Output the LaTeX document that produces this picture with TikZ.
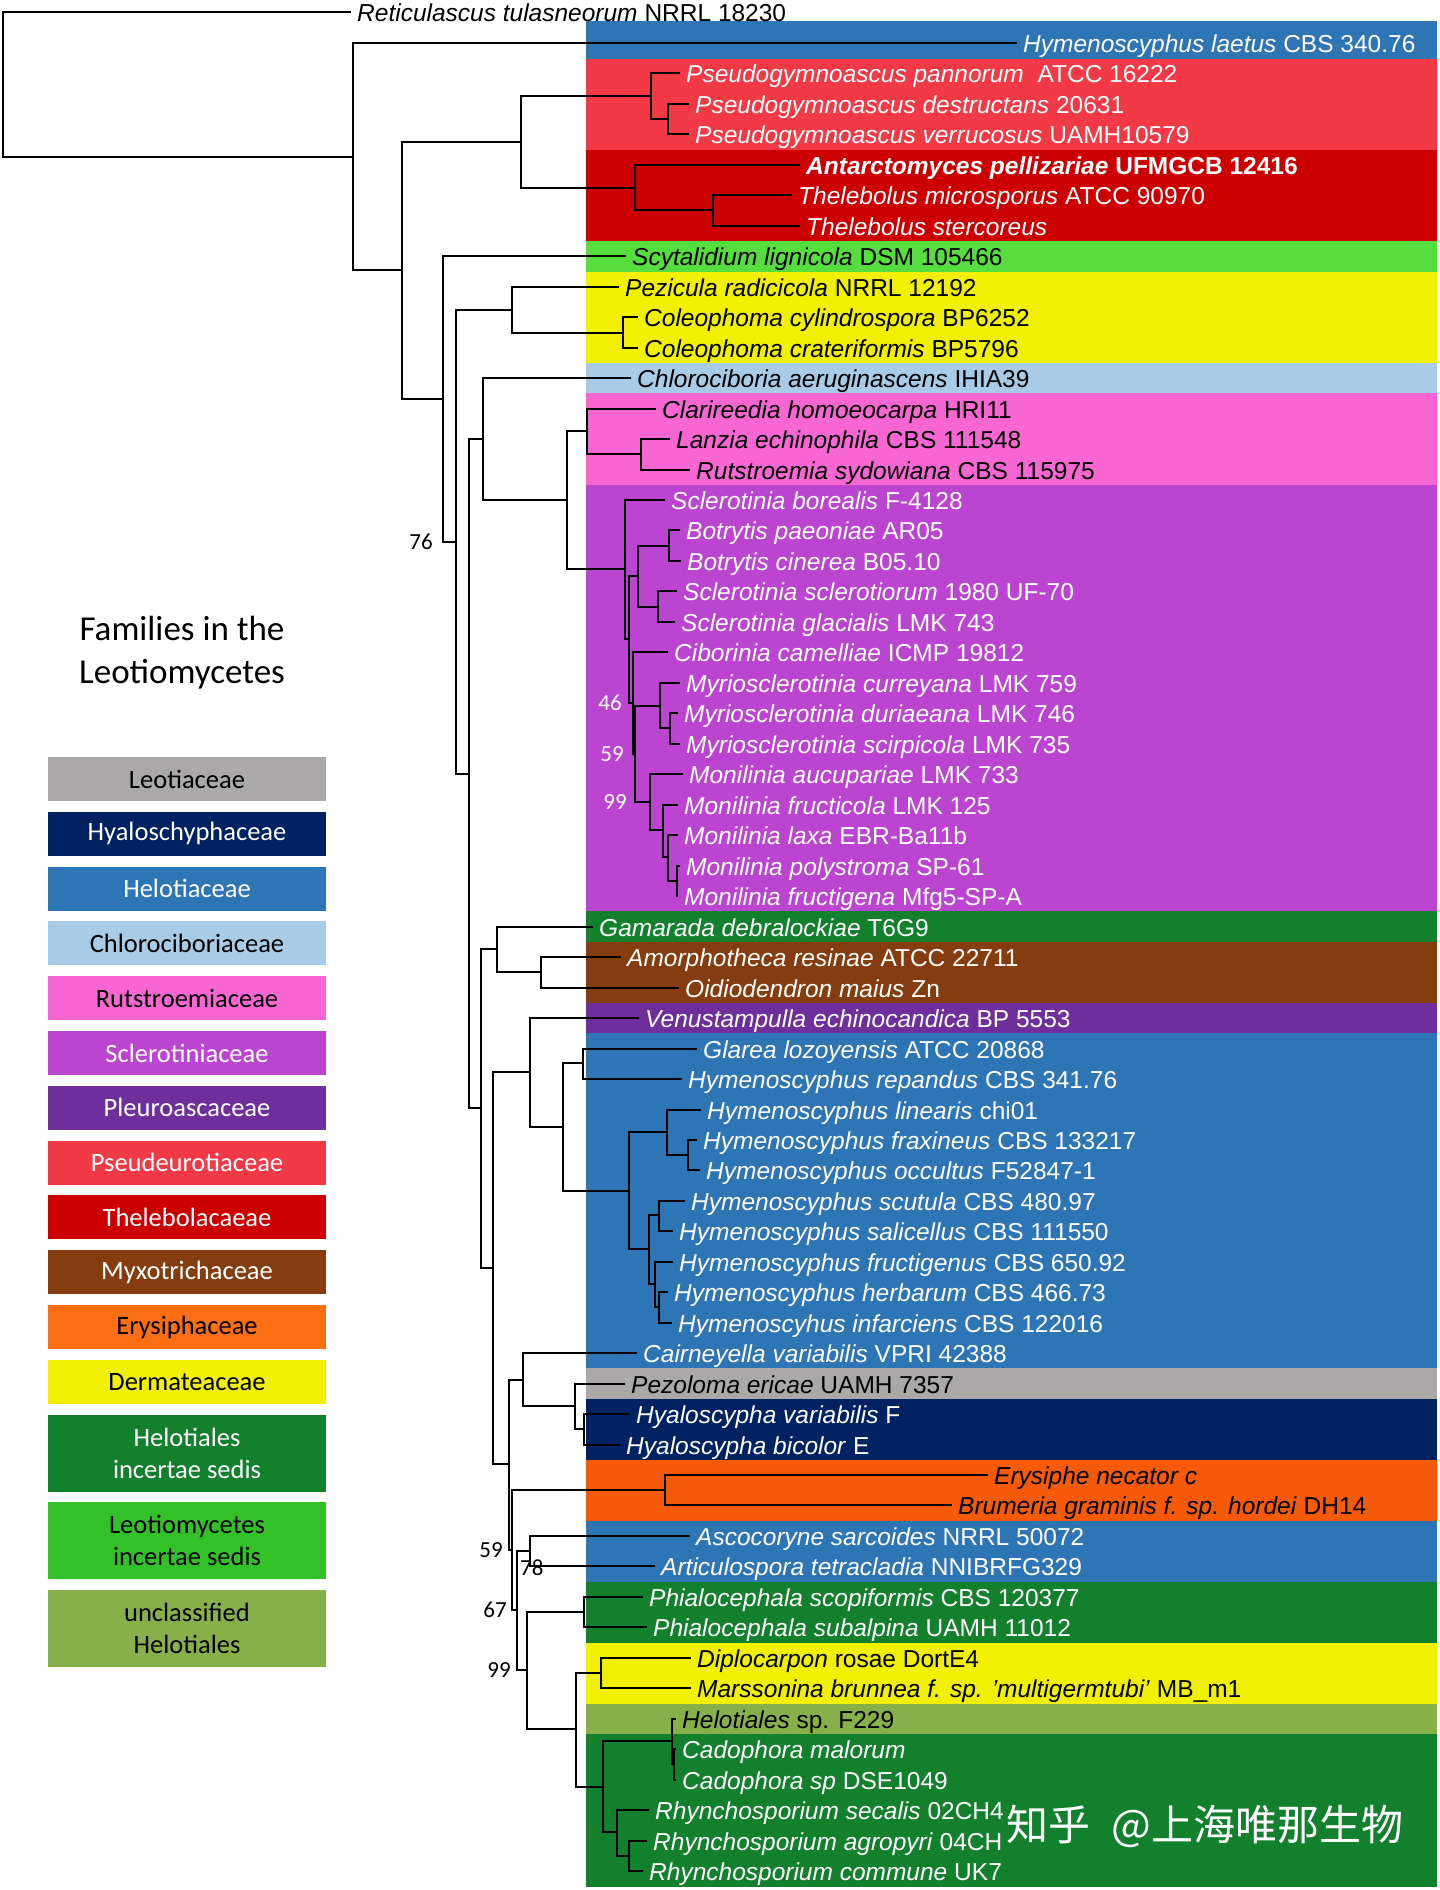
\documentclass[tikz,border=0pt]{standalone}
\usepackage{fontspec}
\setmainfont{Liberation Sans}
\newfontfamily\keyfont{Carlito}
\newfontfamily\markfont{Noto Sans CJK SC}
\usepackage{tikz}
\usetikzlibrary{positioning}
\usepackage{xcolor}

\definecolor{helo}{RGB}{46,117,182}
\definecolor{pseudeuro}{RGB}{242,58,70}
\definecolor{thelebol}{RGB}{204,0,0}
\definecolor{leotio}{RGB}{86,222,62}
\definecolor{leotiokey}{RGB}{51,193,42}
\definecolor{dermat}{RGB}{240,240,0}
\definecolor{chloroci}{RGB}{168,204,232}
\definecolor{rutstro}{RGB}{248,102,212}
\definecolor{sclero}{RGB}{187,69,208}
\definecolor{helotis}{RGB}{18,128,44}
\definecolor{myxo}{RGB}{133,60,14}
\definecolor{pleuro}{RGB}{110,46,156}
\definecolor{leotia}{RGB}{170,168,168}
\definecolor{hyalo}{RGB}{0,34,98}
\definecolor{erysi}{RGB}{245,90,8}
\definecolor{erysikey}{RGB}{252,110,20}
\definecolor{unclass}{RGB}{136,176,74}

\newcommand{\leaffont}{\fontsize{24.5}{29}\selectfont}

\begin{document}
\begin{tikzpicture}[x=1pt,y=-1pt,
	  every node/.style={inner sep=0pt},
	  leaf/.style={anchor=west,inner xsep=6pt,text height=18pt,text depth=0pt,font=\leaffont},
	  wleaf/.style={leaf,text=white},
	  branch/.style={line width=2.1pt},
	  boot/.style={anchor=east,text depth=0pt,font=\keyfont\fontsize{23}{26}\selectfont},
	  famkey/.style={minimum width=278pt,minimum height=44pt,align=center,font=\keyfont\fontsize{26.5}{32}\selectfont},
	  famkey2/.style={famkey,minimum height=77pt}]

	  \useasboundingbox (0,0) rectangle (1440,1890);

	  % Family bands behind the tips
	  \fill[helo] (586,21) rectangle (1437,59);
	  \fill[pseudeuro] (586,59) rectangle (1437,150);
	  \fill[thelebol] (586,150) rectangle (1437,241);
	  \fill[leotio] (586,241) rectangle (1437,272);
	  \fill[dermat] (586,272) rectangle (1437,363);
	  \fill[chloroci] (586,363) rectangle (1437,393);
	  \fill[rutstro] (586,393) rectangle (1437,485);
	  \fill[sclero] (586,485) rectangle (1437,911);
	  \fill[helotis] (586,911) rectangle (1437,942);
	  \fill[myxo] (586,942) rectangle (1437,1003);
	  \fill[pleuro] (586,1003) rectangle (1437,1033);
	  \fill[helo] (586,1033) rectangle (1437,1368);
	  \fill[leotia] (586,1368) rectangle (1437,1399);
	  \fill[hyalo] (586,1399) rectangle (1437,1460);
	  \fill[erysi] (586,1460) rectangle (1437,1521);
	  \fill[helo] (586,1521) rectangle (1437,1582);
	  \fill[helotis] (586,1582) rectangle (1437,1643);
	  \fill[dermat] (586,1643) rectangle (1437,1704);
	  \fill[unclass] (586,1704) rectangle (1437,1734);
	  \fill[helotis] (586,1734) rectangle (1437,1887);

	  % Tips
	  \node[leaf] (retic) at (351,12) {\textit{Reticulascus tulasneorum} NRRL 18230};
	  \node[wleaf] (laetus) at (1017,43) {\textit{Hymenoscyphus laetus} CBS 340.76};
	  \node[wleaf] (pann) at (680,73) {\textit{Pseudogymnoascus pannorum}\ \ ATCC 16222};
	  \node[wleaf] (destr) at (689,104) {\textit{Pseudogymnoascus destructans} 20631};
	  \node[wleaf] (verru) at (689,134) {\textit{Pseudogymnoascus verrucosus} UAMH10579};
	  \node[wleaf,font=\leaffont\bfseries] (antarc) at (800,165) {\textit{Antarctomyces pellizariae} UFMGCB 12416};
	  \node[wleaf] (micro) at (792,195) {\textit{Thelebolus microsporus} ATCC 90970};
	  \node[wleaf] (sterc) at (800,226) {\textit{Thelebolus stercoreus}};
	  \node[leaf] (scyt) at (626,256) {\textit{Scytalidium lignicola} DSM 105466};
	  \node[leaf] (pezic) at (619,287) {\textit{Pezicula radicicola} NRRL 12192};
	  \node[leaf] (colcyl) at (638,317) {\textit{Coleophoma cylindrospora} BP6252};
	  \node[leaf] (colcra) at (638,348) {\textit{Coleophoma crateriformis} BP5796};
	  \node[leaf] (chloro) at (631,378) {\textit{Chlorociboria aeruginascens} IHIA39};
	  \node[leaf] (clari) at (656,409) {\textit{Clarireedia homoeocarpa} HRI11};
	  \node[leaf] (lanzia) at (670,439) {\textit{Lanzia echinophila} CBS 111548};
	  \node[leaf] (rutstr) at (690,470) {\textit{Rutstroemia sydowiana} CBS 115975};
	  \node[wleaf] (sbor) at (665,500) {\textit{Sclerotinia borealis} F-4128};
	  \node[wleaf] (bpae) at (680,530) {\textit{Botrytis paeoniae} AR05};
	  \node[wleaf] (bcin) at (681,561) {\textit{Botrytis cinerea} B05.10};
	  \node[wleaf] (sscl) at (677,591) {\textit{Sclerotinia sclerotiorum} 1980 UF-70};
	  \node[wleaf] (sgla) at (675,622) {\textit{Sclerotinia glacialis} LMK 743};
	  \node[wleaf] (cib) at (668,652) {\textit{Ciborinia camelliae} ICMP 19812};
	  \node[wleaf] (mcur) at (680,683) {\textit{Myriosclerotinia curreyana} LMK 759};
	  \node[wleaf] (mdur) at (678,713) {\textit{Myriosclerotinia duriaeana} LMK 746};
	  \node[wleaf] (mscir) at (680,744) {\textit{Myriosclerotinia scirpicola} LMK 735};
	  \node[wleaf] (mauc) at (683,774) {\textit{Monilinia aucupariae} LMK 733};
	  \node[wleaf] (mfcol) at (678,805) {\textit{Monilinia fructicola} LMK 125};
	  \node[wleaf] (mlaxa) at (678,835) {\textit{Monilinia laxa} EBR-Ba11b};
	  \node[wleaf] (mpoly) at (680,866) {\textit{Monilinia polystroma} SP-61};
	  \node[wleaf] (mfgen) at (678,896) {\textit{Monilinia fructigena} Mfg5-SP-A};
	  \node[wleaf] (gam) at (593,927) {\textit{Gamarada debralockiae} T6G9};
	  \node[wleaf] (amor) at (621,957) {\textit{Amorphotheca resinae} ATCC 22711};
	  \node[wleaf] (oid) at (679,988) {\textit{Oidiodendron maius} Zn};
	  \node[wleaf] (ven) at (639,1018) {\textit{Venustampulla echinocandica} BP 5553};
	  \node[wleaf] (glar) at (697,1049) {\textit{Glarea lozoyensis} ATCC 20868};
	  \node[wleaf] (hrep) at (682,1079) {\textit{Hymenoscyphus repandus} CBS 341.76};
	  \node[wleaf] (hlin) at (701,1110) {\textit{Hymenoscyphus linearis} chi01};
	  \node[wleaf] (hfrax) at (697,1140) {\textit{Hymenoscyphus fraxineus} CBS 133217};
	  \node[wleaf] (hocc) at (700,1170) {\textit{Hymenoscyphus occultus} F52847-1};
	  \node[wleaf] (hscu) at (685,1201) {\textit{Hymenoscyphus scutula} CBS 480.97};
	  \node[wleaf] (hsal) at (673,1231) {\textit{Hymenoscyphus salicellus} CBS 111550};
	  \node[wleaf] (hfgen) at (673,1262) {\textit{Hymenoscyphus fructigenus} CBS 650.92};
	  \node[wleaf] (hherb) at (668,1292) {\textit{Hymenoscyphus herbarum} CBS 466.73};
	  \node[wleaf] (hinf) at (672,1323) {\textit{Hymenoscyhus infarciens} CBS 122016};
	  \node[wleaf] (cair) at (637,1353) {\textit{Cairneyella variabilis} VPRI 42388};
	  \node[leaf] (pezol) at (625,1384) {\textit{Pezoloma ericae} UAMH 7357};
	  \node[wleaf] (hyav) at (630,1414) {\textit{Hyaloscypha variabilis} F};
	  \node[wleaf] (hyab) at (620,1445) {\textit{Hyaloscypha bicolor} E};
	  \node[leaf] (ery) at (988,1475) {\textit{Erysiphe necator c}};
	  \node[leaf] (brum) at (952,1505) {\textit{Brumeria graminis f. sp. hordei} DH14};
	  \node[wleaf] (asco) at (690,1536) {\textit{Ascocoryne sarcoides} NRRL 50072};
	  \node[wleaf] (artic) at (655,1566) {\textit{Articulospora tetracladia} NNIBRFG329};
	  \node[wleaf] (phs) at (643,1597) {\textit{Phialocephala scopiformis} CBS 120377};
	  \node[wleaf] (phsub) at (647,1627) {\textit{Phialocephala subalpina} UAMH 11012};
	  \node[leaf] (dipl) at (691,1658) {\textit{Diplocarpon} rosae DortE4};
	  \node[leaf] (mars) at (691,1688) {\textit{Marssonina brunnea f. sp. 'multigermtubi'} MB\_m1};
	  \node[leaf] (helsp) at (676,1719) {\textit{Helotiales} sp. F229};
	  \node[wleaf] (cadm) at (676,1749) {\textit{Cadophora malorum}};
	  \node[wleaf] (cads) at (676,1780) {\textit{Cadophora sp} DSE1049};
	  \node[wleaf] (rsec) at (649,1810) {\textit{Rhynchosporium secalis} 02CH4};
	  \node[wleaf] (ragr) at (647,1841) {\textit{Rhynchosporium agropyri} 04CH};
	  \node[wleaf] (rcom) at (643,1871) {\textit{Rhynchosporium commune} UK7};

	  % Inner nodes of the tree
	  \coordinate (root) at (3,84);
	  \coordinate (outA) at (353,157);
	  \coordinate (outB) at (402,270);
	  \coordinate (pseuthel) at (521,142);
	  \coordinate (pseudo) at (651,96);
	  \coordinate (pseudo2) at (668,119);
	  \coordinate (thel) at (635,188);
	  \coordinate (thel2) at (713,210);
	  \coordinate (core) at (443,399);
	  \coordinate (core2) at (456,542);
	  \coordinate (dermat) at (512,310);
	  \coordinate (coleo) at (623,333);
	  \coordinate (helot) at (469,774);
	  \coordinate (chlorut) at (483,439);
	  \coordinate (rutscl) at (567,500);
	  \coordinate (rutstro) at (587,431);
	  \coordinate (rutstro2) at (641,454);
	  \coordinate (sclero) at (625,569);
	  \coordinate (sclero2) at (629,639);
	  \coordinate (botscl) at (638,576);
	  \coordinate (botry) at (669,546);
	  \coordinate (sclerot) at (658,607);
	  \coordinate (sclero3) at (633,703);
	  \coordinate (sclero4) at (635,754);
	  \coordinate (myrio) at (660,706);
	  \coordinate (myrio2) at (670,728);
	  \coordinate (monil) at (650,802);
	  \coordinate (monil2) at (663,830);
	  \coordinate (monil3) at (668,857);
	  \coordinate (monil4) at (677,881);
	  \coordinate (lower) at (481,1108);
	  \coordinate (gammyx) at (497,949);
	  \coordinate (myxo) at (541,972);
	  \coordinate (lower2) at (493,1268);
	  \coordinate (venhel) at (530,1072);
	  \coordinate (hymclade) at (563,1127);
	  \coordinate (glarea) at (583,1063);
	  \coordinate (hymeno) at (629,1191);
	  \coordinate (hymlin) at (667,1132);
	  \coordinate (hymfrax) at (688,1155);
	  \coordinate (hymscu) at (649,1249);
	  \coordinate (hymscu2) at (659,1215);
	  \coordinate (hymfru) at (655,1284);
	  \coordinate (hymherb) at (659,1307);
	  \coordinate (lower3) at (509,1464);
	  \coordinate (cairhya) at (523,1380);
	  \coordinate (pezhya) at (575,1406);
	  \coordinate (hyalo) at (584,1429);
	  \coordinate (lower4) at (512,1550);
	  \coordinate (erysi) at (665,1490);
	  \coordinate (lower5) at (517,1610);
	  \coordinate (ascart) at (530,1551);
	  \coordinate (lower6) at (527,1670);
	  \coordinate (phialo) at (584,1612);
	  \coordinate (lower7) at (576,1729);
	  \coordinate (diplo) at (601,1673);
	  \coordinate (cadrhy) at (603,1787);
	  \coordinate (cado) at (672,1741);
	  \coordinate (cado2) at (674,1764);
	  \coordinate (rhyn) at (617,1832);
	  \coordinate (rhyn2) at (629,1856);

	  % Branches
	  \draw[branch] (retic.west) -| (root) |- (outA);
	  \draw[branch] (laetus.west) -| (outA) |- (outB);
	  \draw[branch] (pseuthel) -| (outB) |- (core);
	  \draw[branch] (pseudo) -| (pseuthel) |- (thel);
	  \draw[branch] (pann.west) -| (pseudo) |- (pseudo2);
	  \draw[branch] (destr.west) -| (pseudo2) |- (verru.west);
	  \draw[branch] (antarc.west) -| (thel) |- (thel2);
	  \draw[branch] (micro.west) -| (thel2) |- (sterc.west);
	  \draw[branch] (scyt.west) -| (core) |- (core2);
	  \draw[branch] (dermat) -| (core2) |- (helot);
	  \draw[branch] (pezic.west) -| (dermat) |- (coleo);
	  \draw[branch] (colcyl.west) -| (coleo) |- (colcra.west);
	  \draw[branch] (chlorut) -| (helot) |- (lower);
	  \draw[branch] (chloro.west) -| (chlorut) |- (rutscl);
	  \draw[branch] (rutstro) -| (rutscl) |- (sclero);
	  \draw[branch] (clari.west) -| (rutstro) |- (rutstro2);
	  \draw[branch] (lanzia.west) -| (rutstro2) |- (rutstr.west);
	  \draw[branch] (sbor.west) -| (sclero) |- (sclero2);
	  \draw[branch] (botscl) -| (sclero2) |- (sclero3);
	  \draw[branch] (botry) -| (botscl) |- (sclerot);
	  \draw[branch] (bpae.west) -| (botry) |- (bcin.west);
	  \draw[branch] (sscl.west) -| (sclerot) |- (sgla.west);
	  \draw[branch] (cib.west) -| (sclero3) |- (sclero4);
	  \draw[branch] (myrio) -| (sclero4) |- (monil);
	  \draw[branch] (mcur.west) -| (myrio) |- (myrio2);
	  \draw[branch] (mdur.west) -| (myrio2) |- (mscir.west);
	  \draw[branch] (mauc.west) -| (monil) |- (monil2);
	  \draw[branch] (mfcol.west) -| (monil2) |- (monil3);
	  \draw[branch] (mlaxa.west) -| (monil3) |- (monil4);
	  \draw[branch] (mpoly.west) -| (monil4) |- (mfgen.west);
	  \draw[branch] (gammyx) -| (lower) |- (lower2);
	  \draw[branch] (gam.west) -| (gammyx) |- (myxo);
	  \draw[branch] (amor.west) -| (myxo) |- (oid.west);
	  \draw[branch] (venhel) -| (lower2) |- (lower3);
	  \draw[branch] (ven.west) -| (venhel) |- (hymclade);
	  \draw[branch] (glarea) -| (hymclade) |- (hymeno);
	  \draw[branch] (glar.west) -| (glarea) |- (hrep.west);
	  \draw[branch] (hymlin) -| (hymeno) |- (hymscu);
	  \draw[branch] (hlin.west) -| (hymlin) |- (hymfrax);
	  \draw[branch] (hfrax.west) -| (hymfrax) |- (hocc.west);
	  \draw[branch] (hymscu2) -| (hymscu) |- (hymfru);
	  \draw[branch] (hscu.west) -| (hymscu2) |- (hsal.west);
	  \draw[branch] (hfgen.west) -| (hymfru) |- (hymherb);
	  \draw[branch] (hherb.west) -| (hymherb) |- (hinf.west);
	  \draw[branch] (cairhya) -| (lower3) |- (lower4);
	  \draw[branch] (cair.west) -| (cairhya) |- (pezhya);
	  \draw[branch] (pezol.west) -| (pezhya) |- (hyalo);
	  \draw[branch] (hyav.west) -| (hyalo) |- (hyab.west);
	  \draw[branch] (erysi) -| (lower4) |- (lower5);
	  \draw[branch] (ery.west) -| (erysi) |- (brum.west);
	  \draw[branch] (ascart) -| (lower5) |- (lower6);
	  \draw[branch] (asco.west) -| (ascart) |- (artic.west);
	  \draw[branch] (phialo) -| (lower6) |- (lower7);
	  \draw[branch] (phs.west) -| (phialo) |- (phsub.west);
	  \draw[branch] (diplo) -| (lower7) |- (cadrhy);
	  \draw[branch] (dipl.west) -| (diplo) |- (mars.west);
	  \draw[branch] (cado) -| (cadrhy) |- (rhyn);
	  \draw[branch] (helsp.west) -| (cado) |- (cado2);
	  \draw[branch] (cadm.west) -| (cado2) |- (cads.west);
	  \draw[branch] (rsec.west) -| (rhyn) |- (rhyn2);
	  \draw[branch] (ragr.west) -| (rhyn2) |- (rcom.west);

	  % Support values
	  \node[boot,left=10pt] (b76) at (core |- core2) {76};
	  \node[boot,left=7pt,text=white] (b46) at (sclero2 |- sclero3) {46};
	  \node[boot,left=9pt,text=white] (b59a) at (sclero3 |- sclero4) {59};
	  \node[boot,left=8pt,text=white] (b99a) at (sclero4 |- monil) {99};
	  \node[boot,left=6pt] (b59b) at (lower3 |- lower4) {59};
	  \node[boot,left=5pt] (b67) at (lower4 |- lower5) {67};
	  \node[boot,left=6pt] (b99b) at (lower5 |- lower6) {99};
	  \node[boot,anchor=west] (b78) at (520,1568) {78};

	  % Legend
	  \node[align=center,font=\keyfont\fontsize{35}{43}\selectfont] (keytitle) at (182,653) {Families in the\\Leotiomycetes};
	  \node[famkey,fill=leotia] (kleot) at (187,779) {Leotiaceae};
	  \node[famkey,fill=hyalo,text=white,below=10.4pt of kleot] (khyal) {Hyaloschyphaceae};
	  \node[famkey,fill=helo,text=white,below=10.4pt of khyal] (khelo) {Helotiaceae};
	  \node[famkey,fill=chloroci,below=10.4pt of khelo] (kchlo) {Chlorociboriaceae};
	  \node[famkey,fill=rutstro,below=10.4pt of kchlo] (krut) {Rutstroemiaceae};
	  \node[famkey,fill=sclero,text=white,below=10.4pt of krut] (kscl) {Sclerotiniaceae};
	  \node[famkey,fill=pleuro,text=white,below=10.4pt of kscl] (kpleu) {Pleuroascaceae};
	  \node[famkey,fill=pseudeuro,text=white,below=10.4pt of kpleu] (kpseu) {Pseudeurotiaceae};
	  \node[famkey,fill=thelebol,text=white,below=10.4pt of kpseu] (kthel) {Thelebolacaeae};
	  \node[famkey,fill=myxo,text=white,below=10.4pt of kthel] (kmyxo) {Myxotrichaceae};
	  \node[famkey,fill=erysikey,below=10.4pt of kmyxo] (kery) {Erysiphaceae};
	  \node[famkey,fill=dermat,below=10.4pt of kery] (kderm) {Dermateaceae};
	  \node[famkey2,fill=helotis,text=white,below=10.4pt of kderm] (khis) {Helotiales\\incertae sedis};
	  \node[famkey2,fill=leotiokey,below=10.4pt of khis] (klis) {Leotiomycetes\\incertae sedis};
	  \node[famkey2,fill=unclass,below=10.4pt of klis] (kuncl) {unclassified\\Helotiales};

	  \node[text=white,font=\markfont\fontsize{42}{48}\selectfont] (mark) at (1205,1826) {知乎\hspace{0.5em}@上海唯那生物};
\end{tikzpicture}
\end{document}
